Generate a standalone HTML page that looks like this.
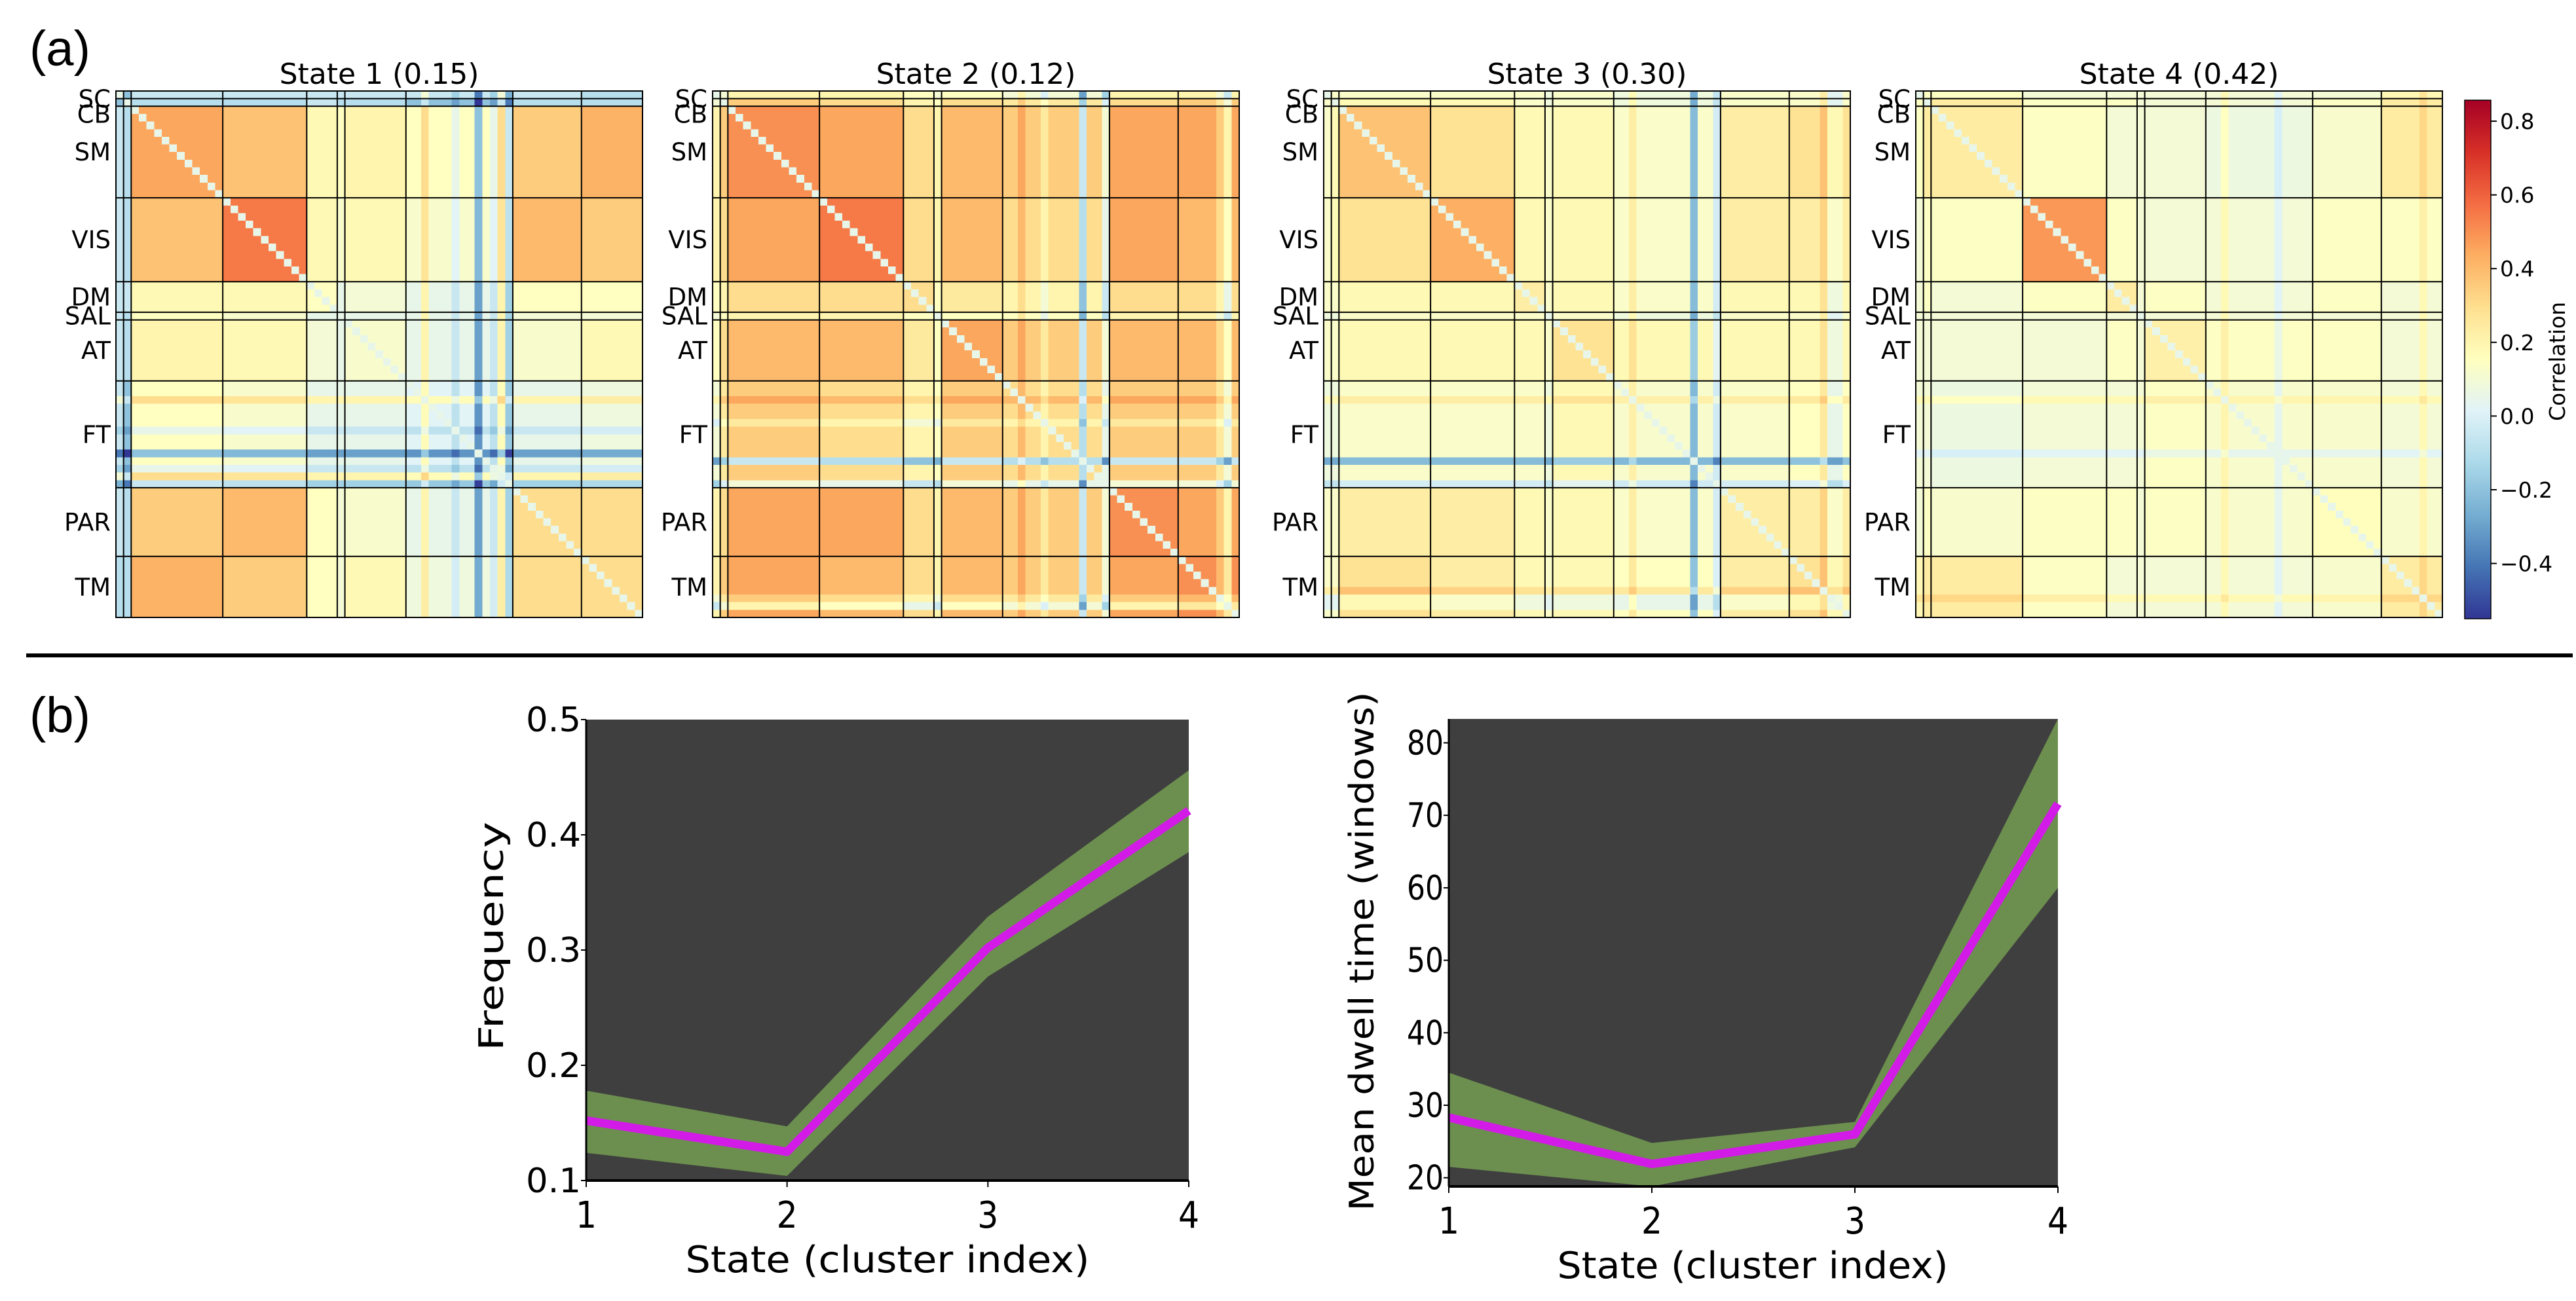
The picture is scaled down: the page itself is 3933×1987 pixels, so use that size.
<!DOCTYPE html>
<html><head><meta charset="utf-8">
<style>
html,body{margin:0;padding:0;background:#fff;}
svg{display:block;}
</style></head>
<body>
<svg id="fig" xmlns="http://www.w3.org/2000/svg" width="3933" height="1987" viewBox="0 0 3933 1987">
<defs>
<linearGradient id="cbgrad" x1="0" y1="1" x2="0" y2="0">
<stop offset="0" stop-color="#313695"/><stop offset="0.1" stop-color="#4575b4"/><stop offset="0.2" stop-color="#74add1"/><stop offset="0.3" stop-color="#abd9e9"/><stop offset="0.4" stop-color="#e0f3f8"/><stop offset="0.5" stop-color="#ffffbf"/><stop offset="0.6" stop-color="#fee090"/><stop offset="0.7" stop-color="#fdae61"/><stop offset="0.8" stop-color="#f46d43"/><stop offset="0.9" stop-color="#d73027"/><stop offset="1" stop-color="#a50026"/>
</linearGradient>
</defs>
<text x="45" y="100" font-family="Liberation Sans, sans-serif" font-size="76">(a)</text>
<text x="45" y="1118" font-family="Liberation Sans, sans-serif" font-size="76">(b)</text>
<rect x="40" y="998" width="3888" height="6" fill="#000"/>
<g id="heatmaps"></g>
<g id="colorbar"></g>
<g id="freqchart"></g>
<g id="dwellchart"></g>
</svg>
<script>
const NS='http://www.w3.org/2000/svg';
// ---------- heatmap data ----------
const networks=['SC','CB','SM','VIS','DM','SAL','AT','FT','PAR','TM'];
const networkSizes=[1,1,12,11,4,1,8,14,9,8];
const stateTitles=['State 1 (0.15)','State 2 (0.12)','State 3 (0.30)','State 4 (0.42)'];
const blocks1=[
[0.1,-0.1,-0.05,-0.05,-0.05,-0.05,-0.05,-0.05,-0.05,-0.1],
[-0.1,0.3,0.0,0.0,0.05,0.0,0.0,-0.1,0.0,0.0],
[-0.05,0.0,0.45,0.38,0.18,0.15,0.2,0.15,0.35,0.42],
[-0.05,0.0,0.38,0.55,0.18,0.12,0.18,0.12,0.4,0.35],
[-0.05,0.05,0.18,0.18,0.15,0.05,0.1,0.05,0.15,0.15],
[-0.05,0.0,0.15,0.12,0.05,0.1,0.05,0.05,0.1,0.1],
[-0.05,0.0,0.2,0.18,0.1,0.05,0.12,0.05,0.12,0.18],
[-0.05,-0.1,0.15,0.12,0.05,0.05,0.05,0.02,0.05,0.08],
[-0.05,0.0,0.35,0.4,0.15,0.1,0.12,0.05,0.3,0.3],
[-0.1,0.0,0.42,0.35,0.15,0.1,0.18,0.08,0.3,0.3]];
const blocks2=[
[0.2,0.1,0.2,0.2,0.15,0.1,0.15,0.1,0.2,0.2],
[0.1,0.3,0.35,0.3,0.2,0.15,0.3,0.25,0.3,0.35],
[0.2,0.35,0.5,0.45,0.3,0.2,0.4,0.35,0.45,0.45],
[0.2,0.3,0.45,0.55,0.3,0.2,0.4,0.3,0.45,0.4],
[0.15,0.2,0.3,0.3,0.3,0.15,0.25,0.2,0.3,0.3],
[0.1,0.15,0.2,0.2,0.15,0.2,0.15,0.15,0.2,0.2],
[0.15,0.3,0.4,0.4,0.25,0.15,0.45,0.35,0.4,0.4],
[0.1,0.25,0.35,0.3,0.2,0.15,0.35,0.3,0.35,0.35],
[0.2,0.3,0.45,0.45,0.3,0.2,0.4,0.35,0.5,0.45],
[0.2,0.35,0.45,0.4,0.3,0.2,0.4,0.35,0.45,0.5]];
const blocks3=[
[0.18,0.13,0.13,0.13,0.13,0.08,0.13,0.08,0.13,0.13],
[0.13,0.33,0.18,0.18,0.13,0.08,0.13,0.08,0.13,0.13],
[0.13,0.18,0.38,0.28,0.18,0.13,0.18,0.13,0.23,0.28],
[0.13,0.18,0.28,0.43,0.18,0.13,0.18,0.13,0.23,0.23],
[0.13,0.13,0.18,0.18,0.23,0.13,0.18,0.13,0.18,0.18],
[0.08,0.08,0.13,0.13,0.13,0.13,0.13,0.08,0.13,0.13],
[0.13,0.13,0.18,0.18,0.18,0.13,0.28,0.18,0.18,0.18],
[0.08,0.08,0.13,0.13,0.13,0.08,0.18,0.12,0.13,0.15],
[0.13,0.13,0.23,0.23,0.18,0.13,0.18,0.13,0.23,0.23],
[0.13,0.13,0.28,0.23,0.18,0.13,0.18,0.15,0.23,0.28]];
const blocks4=[
[0.19,0.14,0.14,0.1,0.1,0.1,0.1,0.1,0.1,0.19],
[0.14,0.34,0.24,0.14,0.14,0.1,0.1,0.1,0.14,0.24],
[0.14,0.24,0.24,0.14,0.1,0.1,0.1,0.07,0.12,0.24],
[0.1,0.14,0.14,0.48,0.14,0.1,0.1,0.1,0.14,0.14],
[0.1,0.14,0.1,0.14,0.24,0.1,0.14,0.1,0.14,0.1],
[0.1,0.1,0.1,0.1,0.1,0.14,0.1,0.1,0.1,0.1],
[0.1,0.1,0.1,0.1,0.14,0.1,0.22,0.14,0.14,0.1],
[0.1,0.1,0.07,0.1,0.1,0.1,0.14,0.12,0.12,0.1],
[0.1,0.14,0.12,0.14,0.14,0.1,0.14,0.12,0.16,0.12],
[0.19,0.24,0.24,0.14,0.1,0.1,0.1,0.1,0.12,0.24]];
// sparse node offsets [node, offset] (stripes visible in the matrices)
const nodeBias1=[[1,-0.1],[40,0.15],[44,-0.1],[47,-0.35],[49,-0.1],[50,0.15],[51,-0.2]];
const nodeBias2=[[40,0.1],[43,-0.1],[48,-0.4],[51,-0.25],[66,-0.1],[67,-0.25]];
const nodeBias3=[[40,0.1],[48,-0.35],[51,-0.15],[65,0.1],[66,-0.1],[67,-0.1]];
const nodeBias4=[[40,0.08],[47,-0.08],[66,0.08]];
const allBlocks=[blocks1,blocks2,blocks3,blocks4];
const allBias=[nodeBias1,nodeBias2,nodeBias3,nodeBias4];
const vmin=-0.55, vmax=0.857;
const cbTicks=[-0.4,-0.2,0.0,0.2,0.4,0.6,0.8];
const cmapStops=['#313695','#4575b4','#74add1','#abd9e9','#e0f3f8','#ffffbf','#fee090','#fdae61','#f46d43','#d73027','#a50026'];

function hex(h){return [parseInt(h.substr(1,2),16),parseInt(h.substr(3,2),16),parseInt(h.substr(5,2),16)];}
function cmap(v){
  let t=(v-vmin)/(vmax-vmin); t=Math.max(0,Math.min(1,t));
  const p=t*10, i=Math.min(9,Math.floor(p)), f=p-i;
  const a=hex(cmapStops[i]), b=hex(cmapStops[i+1]);
  return 'rgb('+a.map((x,k)=>Math.round(x+(b[k]-x)*f)).join(',')+')';
}
function mk(tag,attrs,parent){const e=document.createElementNS(NS,tag);for(const k in attrs)e.setAttribute(k,attrs[k]);parent.appendChild(e);return e;}

const hmLefts=[177,1088,2021,2925], hmTop=139, hmSize=804;
const N=networkSizes.reduce((a,b)=>a+b,0);
const nodeNet=[]; const bounds=[]; {let c=0;networkSizes.forEach((s,k)=>{for(let i=0;i<s;i++)nodeNet.push(k);c+=s;bounds.push(c);});}
const hmG=document.getElementById('heatmaps');
allBlocks.forEach((blk,si)=>{
  const g=mk('g',{},hmG);
  
  
  const x0=hmLefts[si], cs=hmSize/N;
  const bias=new Array(N).fill(0); allBias[si].forEach(([n,b])=>bias[n]=b);
  const cells=mk('g',{'shape-rendering':'crispEdges'},g);
  for(let i=0;i<N;i++)for(let j=0;j<N;j++){
    let v=(i===j)?0.05:blk[nodeNet[i]][nodeNet[j]]+bias[i]+bias[j];
    const r=mk('rect',{x:(x0+j*cs).toFixed(2),y:(hmTop+i*cs).toFixed(2),width:(cs+0.6).toFixed(2),height:(cs+0.6).toFixed(2),fill:cmap(v)},cells);
    
    
  }
  bounds.slice(0,-1).forEach(b=>{
    mk('line',{x1:x0+b*cs,x2:x0+b*cs,y1:hmTop,y2:hmTop+hmSize,stroke:'#000','stroke-width':2},g);
    mk('line',{x1:x0,x2:x0+hmSize,y1:hmTop+b*cs,y2:hmTop+b*cs,stroke:'#000','stroke-width':2},g);
  });
  mk('rect',{x:x0,y:hmTop,width:hmSize,height:hmSize,fill:'none',stroke:'#000','stroke-width':2},g);
  const t=mk('text',{x:x0+hmSize/2,y:128,'text-anchor':'middle','font-family':'DejaVu Sans, sans-serif','font-size':44},g);
  t.textContent=stateTitles[si];
  
  
  let start=0;
  networks.forEach((nm,k)=>{
    const c=start+networkSizes[k]/2; start+=networkSizes[k];
    let yy=hmTop+c*cs; if(nm==='SC')yy+=6; if(nm==='CB')yy+=18;
    const l=mk('text',{x:x0-8,y:yy+13,'text-anchor':'end','font-family':'DejaVu Sans, sans-serif','font-size':37},g);
    l.textContent=nm;
    
    
  });
});
// colorbar
const cbG=document.getElementById('colorbar');
const cbX=3763,cbW=40,cbTop=153,cbBot=945;
mk('rect',{x:cbX,y:cbTop,width:cbW,height:cbBot-cbTop,fill:'url(#cbgrad)',stroke:'#000','stroke-width':1.5},cbG);
const cbY=v=>cbBot-(v-vmin)/(vmax-vmin)*(cbBot-cbTop);
cbTicks.forEach(v=>{
  mk('line',{x1:cbX+cbW,x2:cbX+cbW+9,y1:cbY(v),y2:cbY(v),stroke:'#000','stroke-width':2},cbG);
  const t=mk('text',{x:cbX+cbW+14,y:cbY(v)+12,'font-family':'DejaVu Sans, sans-serif','font-size':33},cbG);
  t.textContent=(v<0?'\u2212':'')+Math.abs(v).toFixed(1);
  
  
});
const cbl=mk('text',{x:0,y:0,transform:'translate(3916,552) rotate(-90)','text-anchor':'middle','font-family':'DejaVu Sans, sans-serif','font-size':33},cbG);
cbl.textContent='Correlation';



// ---------- line charts ----------
const states=[1,2,3,4];
const freqMean=[0.152,0.125,0.302,0.421];
const freqLow=[0.124,0.104,0.277,0.385];
const freqHigh=[0.178,0.147,0.329,0.456];
const freqTicks=[0.1,0.2,0.3,0.4,0.5];
const dwellMean=[28.3,21.9,26.0,71.6];
const dwellLow=[21.5,18.8,24.2,60.0];
const dwellHigh=[34.5,24.8,27.7,83.3];
const dwellTicks=[20,30,40,50,60,70,80];

function chart(gid,box,ymin,ymax,mean,low,high,ticks,fmt,ylabel,ylabelLen,ylabelX,xlabelX,xlabelLen){
  const g=document.getElementById(gid);
  const X=s=>box.l+(s-1)/3*(box.r-box.l);
  const Y=v=>box.b-(v-ymin)/(ymax-ymin)*(box.b-box.t);
  const bg=mk('rect',{x:box.l,y:box.t,width:box.r-box.l,height:box.b-box.t,fill:'#3f3f3f'},g);
  
  
  let d=states.map((s,i)=>(i?'L':'M')+X(s)+','+Y(high[i])).join('')+states.slice().reverse().map((s,k)=>'L'+X(s)+','+Y(low[3-k])).join('')+'Z';
  const band=mk('path',{d:d,fill:'#6c8f4f'},g);
  
  
  const ln=mk('path',{d:states.map((s,i)=>(i?'L':'M')+X(s)+','+Y(mean[i])).join(''),fill:'none',stroke:'#d21be6','stroke-width':13,'stroke-linejoin':'round'},g);
  
  
  mk('line',{x1:box.l,x2:box.l,y1:box.t,y2:box.b,stroke:'#000','stroke-width':3},g);
  mk('line',{x1:box.l,x2:box.r,y1:box.b,y2:box.b,stroke:'#000','stroke-width':4},g);
  ticks.forEach(v=>{
    mk('line',{x1:box.l-8,x2:box.l,y1:Y(v),y2:Y(v),stroke:'#000','stroke-width':2},g);
    const t=mk('text',{x:box.l-8,y:Y(v)+18,'text-anchor':'end','font-family':'DejaVu Sans Condensed, DejaVu Sans, sans-serif','font-size':52,'textLength':fmt(v).length*28,'lengthAdjust':'spacingAndGlyphs'},g);
    t.textContent=fmt(v);
    
    
  });
  states.forEach(s=>{
    mk('line',{x1:X(s),x2:X(s),y1:box.b,y2:box.b+10,stroke:'#000','stroke-width':2},g);
    const t=mk('text',{x:X(s),y:box.b+72,'text-anchor':'middle','font-family':'DejaVu Sans Condensed, DejaVu Sans, sans-serif','font-size':56},g);
    t.textContent=String(s);
    
    
  });
  const xl=mk('text',{x:xlabelX,y:box.b+140,'text-anchor':'middle','font-family':'DejaVu Sans Condensed, DejaVu Sans, sans-serif','font-size':56,'textLength':xlabelLen,'lengthAdjust':'spacingAndGlyphs'},g);
  xl.textContent='State (cluster index)';
  
  
  const cy=box.yc;
  const yl=mk('text',{x:0,y:0,transform:'translate('+ylabelX+','+cy+') rotate(-90)','text-anchor':'middle','font-family':'DejaVu Sans, sans-serif','font-size':52,'textLength':ylabelLen,'lengthAdjust':'spacingAndGlyphs'},g);
  yl.textContent=ylabel;
  
  
}
chart('freqchart',{l:895,r:1815,t:1099,b:1803,yc:1430},0.1,0.5,freqMean,freqLow,freqHigh,freqTicks,v=>v.toFixed(1),'Frequency',350,768,1355,617);
chart('dwellchart',{l:2212,r:3142,t:1098,b:1812,yc:1453},18.8,83.3,dwellMean,dwellLow,dwellHigh,dwellTicks,v=>String(v),'Mean dwell time (windows)',793,2097,2676,597);
</script>
</body></html>
